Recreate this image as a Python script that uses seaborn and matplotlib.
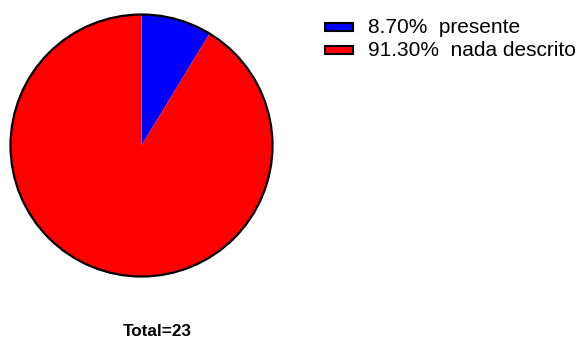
import matplotlib
matplotlib.use("Agg")
import matplotlib.pyplot as plt
from matplotlib.patches import Circle, Rectangle
import seaborn as sns

# counts per category
categories = ["presente", "nada descrito"]
counts = [2, 21]
colors = ["#0000ff", "#ff0000"]

sns.set_theme(style="white")
plt.rcParams["font.family"] = ["Liberation Sans", "DejaVu Sans"]

W, H = 584, 340
fig = plt.figure(figsize=(W / 100, H / 100), dpi=100)
ax = fig.add_axes([0, 0, 1, 1])
ax.set_xlim(0, W)
ax.set_ylim(0, H)
ax.set_axis_off()

total = sum(counts)
cx, cy, r = 141.5, H - 145.5, 131

ax.pie(counts, colors=colors, startangle=90, counterclock=False,
       center=(cx, cy), radius=r, frame=True,
       wedgeprops=dict(linewidth=0, antialiased=True))
ax.add_patch(Circle((cx, cy), r, fill=False, edgecolor="black", linewidth=1.6))
ax.set_xlim(0, W)
ax.set_ylim(0, H)
ax.set_aspect("equal")
ax.set_axis_off()

# legend rows
row_top = [22.7, 46.2]
for i, (name, n, c) in enumerate(zip(categories, counts, colors)):
    y0 = H - row_top[i]
    ax.add_patch(Rectangle((325, y0 - 8), 28, 8, facecolor=c,
                           edgecolor="black", linewidth=1.5))
    ax.text(368, y0 - 10.3, f"{n / total * 100:.2f}%  {name}",
            fontsize=15, color="black", ha="left", va="baseline")

ax.text(157, H - 336, f"Total={total}", fontsize=12.3, fontweight="bold",
        color="black", ha="center", va="baseline")

fig.savefig("out.png", dpi=100, facecolor="white")
